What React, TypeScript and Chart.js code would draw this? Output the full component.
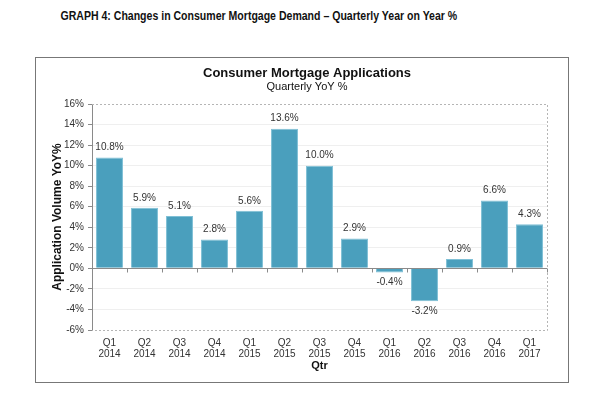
import React, { useEffect, useLayoutEffect, useRef } from "react";
import { Chart, registerables } from "chart.js";

Chart.register(...registerables);

const categories: string[][] = [
  ["Q1", "2014"], ["Q2", "2014"], ["Q3", "2014"], ["Q4", "2014"],
  ["Q1", "2015"], ["Q2", "2015"], ["Q3", "2015"], ["Q4", "2015"],
  ["Q1", "2016"], ["Q2", "2016"], ["Q3", "2016"], ["Q4", "2016"],
  ["Q1", "2017"],
];
const yoyValues: number[] = [10.8, 5.9, 5.1, 2.8, 5.6, 13.6, 10.0, 2.9, -0.4, -3.2, 0.9, 6.6, 4.3];
const yMin = -6;
const yMax = 16;
const yStep = 2;

const pageTitle = "GRAPH 4: Changes in Consumer Mortgage Demand \u2013 Quarterly Year on Year %";
const chartTitle = "Consumer Mortgage Applications";
const chartSubtitle = "Quarterly YoY %";
const yTitle = "Application Volume YoY%";
const xTitle = "Qtr";

const FONT = 'Arial, "Liberation Sans", sans-serif';

const decorPlugin = {
  id: "decor",
  beforeDatasetsDraw(chart: any) {
    const { ctx, chartArea } = chart;
    ctx.save();
    ctx.strokeStyle = "#b5b5b5";
    ctx.lineWidth = 1;
    ctx.setLineDash([2, 2]);
    ctx.beginPath();
    ctx.moveTo(chartArea.left, chartArea.top + 0.5);
    ctx.lineTo(chartArea.right + 0.5, chartArea.top + 0.5);
    ctx.lineTo(chartArea.right + 0.5, chartArea.bottom + 0.5);
    ctx.lineTo(chartArea.left, chartArea.bottom + 0.5);
    ctx.stroke();
    ctx.restore();
  },
  afterDatasetsDraw(chart: any) {
    const { ctx } = chart;
    const x = chart.scales.x;
    const y = chart.scales.y;
    const y0 = Math.round(y.getPixelForValue(0)) + 0.5;
    ctx.save();
    ctx.strokeStyle = "#8a8a8a";
    ctx.lineWidth = 1;
    ctx.beginPath();
    ctx.moveTo(x.left, y0);
    ctx.lineTo(x.right, y0);
    const n = categories.length;
    for (let i = 0; i <= n; i++) {
      let px: number;
      if (i === 0) px = x.left;
      else if (i === n) px = x.right;
      else px = (x.getPixelForValue(i - 1) + x.getPixelForValue(i)) / 2;
      px = Math.round(px) + 0.5;
      ctx.moveTo(px, y0);
      ctx.lineTo(px, y0 + 4);
    }
    ctx.stroke();

    // data labels
    const meta = chart.getDatasetMeta(0);
    ctx.fillStyle = "#333333";
    ctx.font = "10px " + FONT;
    ctx.textAlign = "center";
    ctx.textBaseline = "middle";
    meta.data.forEach((bar: any, i: number) => {
      const v = yoyValues[i];
      const ty = v >= 0 ? bar.y - 10 : bar.y + 10;
      ctx.fillText(v.toFixed(1) + "%", bar.x, ty);
    });

    // titles
    ctx.fillStyle = "#111111";
    ctx.font = "bold 13px " + FONT;
    ctx.fillText(chartTitle, 271, 15.5);
    ctx.font = "11px " + FONT;
    ctx.fillText(chartSubtitle, 271, 28.5);
    ctx.restore();
  },
};

export default function App() {
  const canvasRef = useRef<HTMLCanvasElement | null>(null);
  const titleRef = useRef<HTMLSpanElement | null>(null);

  useLayoutEffect(() => {
    const el = titleRef.current;
    if (!el) return;
    const w = el.offsetWidth;
    if (w > 0) {
      el.style.transform = `scaleX(${397 / w})`;
    }
  }, []);

  useEffect(() => {
    if (!canvasRef.current) return;
    const chart = new Chart(canvasRef.current, {
      type: "bar",
      data: {
        labels: categories,
        datasets: [
          {
            data: yoyValues,
            backgroundColor: "#4a9fbd",
            borderColor: "#7fc0d6",
            borderWidth: 1,
            barPercentage: 0.77,
            categoryPercentage: 1,
          },
        ],
      },
      options: {
        animation: false,
        responsive: false,
        maintainAspectRatio: false,
        layout: { padding: { top: 46, right: 21, bottom: 0, left: 0 } },
        plugins: {
          legend: { display: false },
          tooltip: { enabled: false },
          title: { display: false },
        },
        scales: {
          x: {
            grid: { display: false },
            border: { display: false },
            ticks: {
              color: "#333333",
              font: { family: FONT, size: 10, lineHeight: 1.05 },
              padding: 0,
              maxRotation: 0,
              autoSkip: false,
            },
            title: {
              display: true,
              text: xTitle,
              color: "#111111",
              font: { family: FONT, size: 11, weight: "bold" },
              padding: { top: 0, bottom: 9 },
            },
            afterFit: (s: any) => {
              s.height = 52;
            },
          },
          y: {
            min: yMin,
            max: yMax,
            grid: {
              color: (c: any) =>
                c.tick && (c.tick.value === yMax || c.tick.value === yMin || c.tick.value === 0)
                  ? "rgba(0,0,0,0)"
                  : "#efefef",
              tickColor: "#8a8a8a",
              tickLength: 4,
              drawTicks: true,
            },
            border: { display: true, color: "#8a8a8a" },
            ticks: {
              stepSize: yStep,
              color: "#333333",
              font: { family: FONT, size: 10 },
              padding: 4,
              callback: (v: any) => v + "%",
            },
            title: {
              display: true,
              text: yTitle,
              color: "#111111",
              font: { family: FONT, size: 12, weight: "bold" },
              padding: { top: 14, bottom: 0 },
            },
            afterFit: (s: any) => {
              s.width = 56;
            },
          },
        },
      },
      plugins: [decorPlugin],
    });
    return () => chart.destroy();
  }, []);

  return (
    <div
      style={{
        position: "absolute",
        left: 0,
        top: 0,
        width: 601,
        height: 396,
        background: "#ffffff",
      }}
    >
      <div
        style={{
          position: "absolute",
          left: 0,
          top: 6,
          width: 517,
          textAlign: "center",
          lineHeight: "18px",
        }}
      >
        <span
          ref={titleRef}
          style={{
            display: "inline-block",
            fontFamily: '"Liberation Sans", Arial, sans-serif',
            fontWeight: "bold",
            fontSize: 12,
            color: "#111",
            whiteSpace: "nowrap",
            transformOrigin: "50% 50%",
          }}
        >
          {pageTitle}
        </span>
      </div>
      <div
        style={{
          position: "absolute",
          left: 35,
          top: 57,
          width: 534,
          height: 326,
          boxSizing: "border-box",
          border: "1px solid #777777",
        }}
      >
        <canvas
          ref={canvasRef}
          width={532}
          height={324}
          style={{ display: "block", width: 532, height: 324 }}
        />
      </div>
    </div>
  );
}
